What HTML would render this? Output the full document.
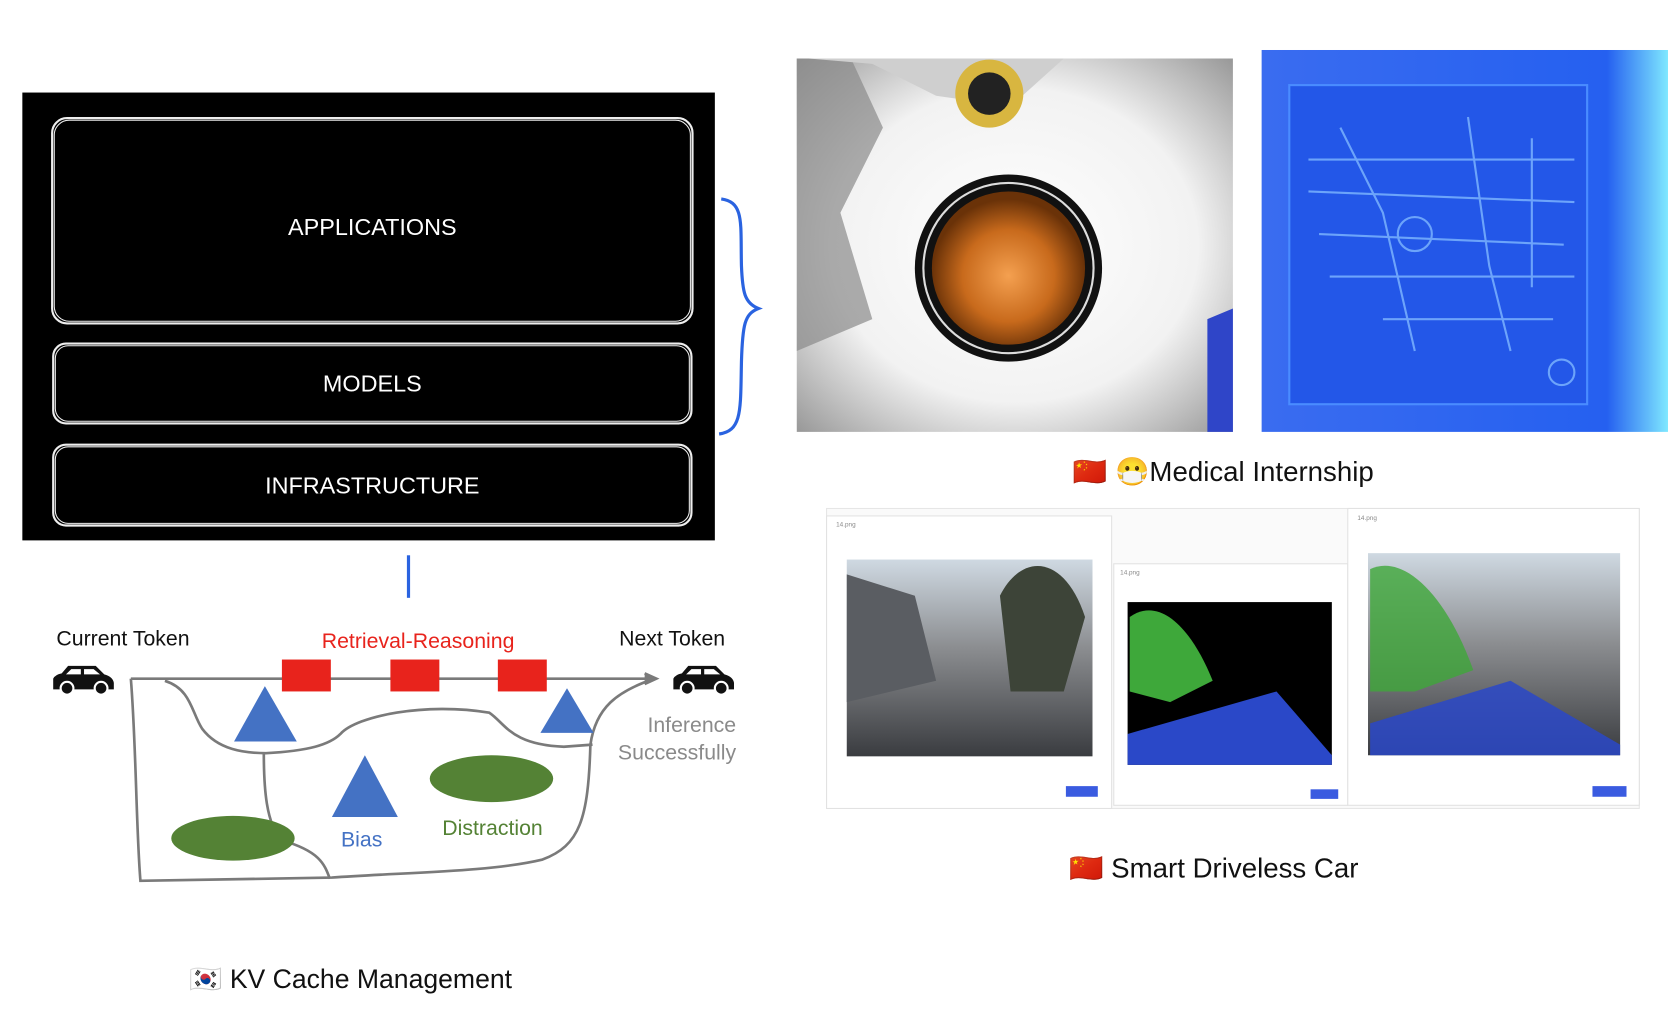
<!DOCTYPE html>
<html><head><meta charset="utf-8"><style>
html,body{margin:0;padding:0;background:#fff;}
svg{display:block;}
text{font-family:"Liberation Sans","Noto Sans CJK SC",sans-serif;}
</style></head><body>
<svg width="1668" height="1031" viewBox="0 0 1568 969.2" xmlns="http://www.w3.org/2000/svg">
<defs>
<radialGradient id="g1" cx="0.5" cy="0.5" r="0.7">
<stop offset="0" stop-color="#ffffff"/><stop offset="0.6" stop-color="#f2f2f2"/><stop offset="1" stop-color="#9a9a9a"/></radialGradient>
<radialGradient id="or" cx="0.5" cy="0.55" r="0.5">
<stop offset="0" stop-color="#f4a050"/><stop offset="0.6" stop-color="#c86a1c"/><stop offset="1" stop-color="#6a3208"/></radialGradient>
<linearGradient id="bl" x1="0" y1="0" x2="1" y2="0">
<stop offset="0" stop-color="#3a6cf0"/><stop offset="0.85" stop-color="#2560f0"/><stop offset="1" stop-color="#7fe8ff"/></linearGradient>
<linearGradient id="road" x1="0" y1="0" x2="0" y2="1">
<stop offset="0" stop-color="#cfd9e2"/><stop offset="0.45" stop-color="#8b8d90"/><stop offset="1" stop-color="#3a3c40"/></linearGradient>
</defs>

<!-- black stack box -->
<rect x="21" y="87" width="651" height="421" fill="#000"/>
<g fill="none" stroke="#eee" stroke-width="2">
<rect x="49" y="111" width="602" height="193" rx="14"/>
<rect x="51" y="113" width="598" height="189" rx="14" stroke-width="1"/>
<rect x="50" y="323" width="600" height="75" rx="12"/>
<rect x="52" y="325" width="596" height="71" rx="12" stroke-width="1"/>
<rect x="50" y="418" width="600" height="76" rx="12"/>
<rect x="52" y="420" width="596" height="72" rx="12" stroke-width="1"/>
</g>
<g fill="#fff" font-size="22" text-anchor="middle">
<text x="350" y="221">APPLICATIONS</text>
<text x="350" y="368">MODELS</text>
<text x="350" y="464">INFRASTRUCTURE</text>
</g>
<!-- brace -->
<path d="M678 187 C700 190 696 210 697 250 C698 275 700 285 713 290 C700 295 698 305 697 340 C696 385 698 405 676 408" fill="none" stroke="#2a63e0" stroke-width="3"/>
<line x1="384" y1="522" x2="384" y2="562" stroke="#2a63e0" stroke-width="3"/>

<!-- diagram -->
<text x="53" y="607" font-size="20" fill="#111">Current Token</text>
<text x="582" y="607" font-size="20" fill="#111">Next Token</text>
<text x="393" y="609" font-size="20" fill="#e8231c" text-anchor="middle">Retrieval-Reasoning</text>
<g fill="#111">
<path d="M50 648 L50 638 Q52 634 58 633 L64 626 L90 626 L98 634 Q106 636 107 642 L107 648 Z"/>
<path d="M633 648 L633 638 Q635 634 641 633 L647 626 L673 626 L681 634 Q689 636 690 642 L690 648 Z"/>
</g>
<g fill="#fff"><path d="M67 629 L76 629 L76 634 L62 634 Z"/><path d="M79 629 L88 629 L94 634 L79 634 Z"/>
<path d="M650 629 L659 629 L659 634 L645 634 Z"/><path d="M662 629 L671 629 L677 634 L662 634 Z"/></g>
<g fill="#111" stroke="#fff" stroke-width="2"><circle cx="63" cy="647" r="6"/><circle cx="95" cy="647" r="6"/><circle cx="646" cy="647" r="6"/><circle cx="678" cy="647" r="6"/></g>
<g fill="none" stroke="#7a7a7a" stroke-width="2.5">
<path d="M123 638 L612 638"/>
<path d="M606 633 L617 638 L606 643" fill="#7a7a7a"/>
<path d="M123 638 C128 700 128 780 132 828 L312 825 C380 820 460 820 510 808 C545 795 553 770 555 700 C560 665 580 650 615 638"/>
<path d="M155 640 C180 648 180 670 190 685 C205 705 230 708 250 708 C290 706 310 700 320 690 C335 673 400 660 460 670 C475 680 480 700 530 702 L557 700"/>
<path d="M248 708 C248 740 250 775 265 790 C300 800 305 812 310 826"/>
</g>
<g fill="#e8231c"><rect x="265" y="620" width="46" height="30"/><rect x="367" y="620" width="46" height="30"/><rect x="468" y="620" width="46" height="30"/></g>
<g fill="#4472c4">
<polygon points="249,645 279,697 220,697"/><polygon points="533,647 558,689 508,689"/><polygon points="343,710 374,768 312,768"/>
</g>
<g fill="#548235"><ellipse cx="462" cy="732" rx="58" ry="22"/><ellipse cx="219" cy="788" rx="58" ry="21"/></g>
<text x="340" y="796" font-size="20" fill="#4472c4" text-anchor="middle">Bias</text>
<text x="463" y="785" font-size="20" fill="#548235" text-anchor="middle">Distraction</text>
<g font-size="20" fill="#8a8a8a" text-anchor="end"><text x="692" y="688">Inference</text><text x="692" y="714">Successfully</text></g>
<text x="178" y="929" font-size="25" fill="#111">🇰🇷 KV Cache Management</text>

<!-- photo 1 -->
<rect x="749" y="55" width="410" height="351" fill="url(#g1)"/>
<path d="M749 55 L800 55 L830 120 L790 200 L820 300 L749 330 Z" fill="#8a8a8a" opacity="0.7"/>
<path d="M760 55 L1000 55 L950 100 L880 90 L820 60 Z" fill="#cfcfcf"/>
<circle cx="930" cy="88" r="32" fill="#d8b640"/><circle cx="930" cy="88" r="20" fill="#222"/>
<path d="M1135 300 L1159 290 L1159 406 L1135 406 Z" fill="#2f45c8"/>
<circle cx="948" cy="252" r="88" fill="#111"/>
<circle cx="948" cy="252" r="80" fill="none" stroke="#ddd" stroke-width="2"/>
<circle cx="948" cy="252" r="72" fill="url(#or)"/>
<!-- photo 2 -->
<rect x="1186" y="47" width="382" height="359" fill="url(#bl)"/>
<rect x="1212" y="80" width="280" height="300" fill="#2357e8" stroke="#4a8cff" stroke-width="2"/>
<g stroke="#7fb8ff" stroke-width="2" fill="none" opacity="0.8">
<path d="M1230 150 L1480 150 M1230 180 L1480 190 M1240 220 L1470 230 M1250 260 L1480 260 M1300 300 L1460 300 M1260 120 L1300 200 L1330 330 M1380 110 L1400 250 L1420 330 M1440 130 L1440 270"/>
<circle cx="1330" cy="220" r="16"/><circle cx="1468" cy="350" r="12"/>
</g>
<text x="1150" y="452" font-size="26" fill="#111" text-anchor="middle">🇨🇳 😷Medical Internship</text>

<!-- driving screenshots -->
<rect x="777" y="478" width="764" height="282" fill="#fafafa" stroke="#e6e6e6"/>
<rect x="777" y="485" width="268" height="275" fill="#fff" stroke="#e2e2e2"/>
<rect x="1047" y="530" width="220" height="227" fill="#fff" stroke="#e2e2e2"/>
<rect x="1267" y="478" width="274" height="279" fill="#fff" stroke="#e2e2e2"/>
<rect x="796" y="526" width="231" height="185" fill="url(#road)"/>
<path d="M796 540 L860 560 L880 640 L796 660 Z" fill="#5a5d62"/>
<path d="M940 560 C960 520 1000 520 1020 580 L1000 650 L950 650 Z" fill="#3d4438"/>
<rect x="1060" y="566" width="192" height="153" fill="#000"/>
<path d="M1062 580 C1090 560 1120 590 1140 640 L1100 660 L1062 650 Z" fill="#3ea83a"/>
<path d="M1060 690 L1200 650 L1252 710 L1252 719 L1060 719 Z" fill="#2a48c8"/>
<rect x="1286" y="520" width="237" height="190" fill="url(#road)"/>
<path d="M1288 535 C1320 520 1360 560 1385 630 L1330 650 L1288 650 Z" fill="#3ea83a" opacity="0.8"/>
<path d="M1288 680 L1420 640 L1523 700 L1523 710 L1288 710 Z" fill="#2a48c8" opacity="0.85"/>
<g fill="#3a5be0"><rect x="1002" y="739" width="30" height="10"/><rect x="1232" y="742" width="26" height="9"/><rect x="1497" y="739" width="32" height="10"/></g>
<g fill="#888" font-size="6"><text x="786" y="495">14.png</text><text x="1053" y="540">14.png</text><text x="1276" y="489">14.png</text></g>
<text x="1005" y="825" font-size="26" fill="#111">🇨🇳 Smart Driveless Car</text>
</svg>
</body></html>
